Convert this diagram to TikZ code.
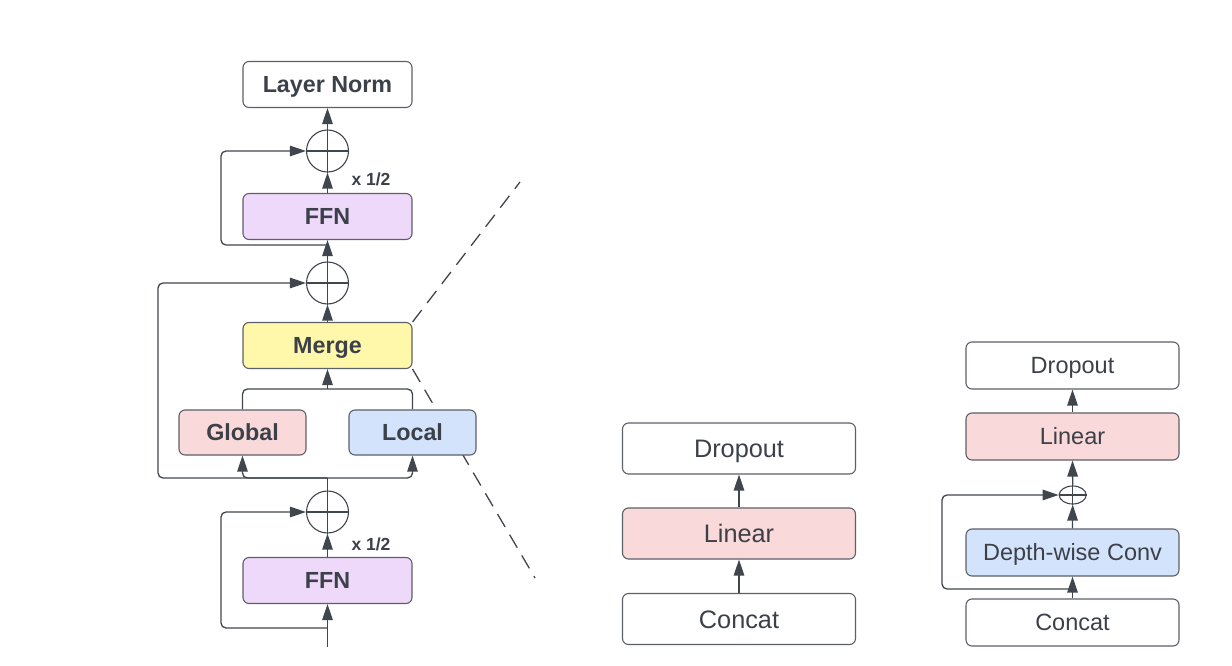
\documentclass[tikz,border=0pt]{standalone}
\usepackage{fontspec}
\setmainfont{Liberation Sans}
\usetikzlibrary{arrows.meta,shapes.geometric,backgrounds}
\definecolor{txt}{HTML}{3B4049}
\definecolor{edge}{HTML}{5C6068}
\definecolor{ln}{HTML}{41454D}
\definecolor{ffnc}{HTML}{EFD9FB}
\definecolor{mergec}{HTML}{FFF7AA}
\definecolor{pinkc}{HTML}{F9D9D9}
\definecolor{bluec}{HTML}{D4E3FC}
\tikzset{
  box/.style={draw=edge, line width=1.1pt, rounded corners=6pt, inner sep=0pt, text=txt, align=center, text depth=0pt},
  boldbox/.style={box, font=\fontsize{23.3}{27}\selectfont\bfseries, text height=16.7pt},
  midbox/.style={box, minimum width=233pt, minimum height=51pt, font=\fontsize{25.3}{30}\selectfont, text height=18.1pt},
  rightbox/.style={box, minimum width=213pt, minimum height=47pt, font=\fontsize{23.5}{28}\selectfont, text height=16.8pt},
  wide/.style={minimum width=169pt, minimum height=46pt},
  narrow/.style={minimum width=127pt, minimum height=45pt},
  plus/.style={draw=ln, line width=1.1pt, circle, minimum size=42pt, inner sep=0pt},
  smallplus/.style={draw=ln, line width=1.1pt, ellipse, minimum width=27pt, minimum height=18pt, inner sep=0pt},
  arr/.style={draw=ln, line width=1.3pt, -{Triangle[length=16pt,width=10.5pt]}},
  lin/.style={draw=ln, line width=1.3pt},
  dashline/.style={draw=ln, line width=1.3pt, dash pattern=on 15pt off 9pt},
  lbl/.style={text=txt, font=\fontsize{17.5}{21}\selectfont\bfseries, inner sep=0pt, text height=12.5pt, text depth=0pt}
}
\begin{document}
\begin{tikzpicture}[x=1pt,y=-1pt]
\useasboundingbox (0,0) rectangle (1232,666);
% ---------- left panel ----------
\node[boldbox, wide] (ln) at (327.5,84.5) {Layer Norm};
\node[plus] (c1) at (327.5,151) {};
\node[boldbox, wide, fill=ffnc] (ffn2) at (327.5,216.5) {FFN};
\node[plus] (c2) at (327.5,283) {};
\node[boldbox, wide, fill=mergec] (merge) at (327.5,345.5) {Merge};
\node[boldbox, narrow, fill=pinkc] (global) at (242.5,432.5) {Global};
\node[boldbox, narrow, fill=bluec] (local) at (412.5,432.5) {Local};
\node[plus] (c3) at (327.5,512) {};
\node[boldbox, wide, fill=ffnc] (ffn1) at (327.5,580.5) {FFN};
\node[lbl] (h2) at (371,179.5) {x 1/2};
\node[lbl] (h1) at (371,544) {x 1/2};
\foreach \c in {c1,c2,c3}{
  \draw[lin, line width=1.1pt] (\c.north) -- (\c.south);
  \draw[lin, line width=1.1pt] (\c.west) -- (\c.east);
}
\coordinate (in) at (327.5,647);
\coordinate (s1) at (327.5,628);
\coordinate (j1) at (327.5,478);
\coordinate (j2) at (327.5,389);
\coordinate (s2) at (327.5,245);
\coordinate (dz1) at (520,182);
\coordinate (dz2) at (535,578);
\draw[arr] (in) -- (ffn1.south);
\draw[arr, rounded corners=5pt] (s1) -| (221,512) -- (c3.west);
\draw[arr] (ffn1.north) -- (c3.south);
\draw[lin] (c3.north) -- (j1);
\draw[arr, rounded corners=5pt] (j1) -| (global.south);
\draw[arr, rounded corners=5pt] (j1) -| (local.south);
\draw[arr, rounded corners=5pt] (j1) -| (158,283) -- (c2.west);
\draw[lin, rounded corners=5pt] (global.north) |- (j2);
\draw[lin, rounded corners=5pt] (local.north) |- (j2);
\draw[arr] (j2) -- (merge.south);
\draw[arr] (merge.north) -- (c2.south);
\draw[arr] (c2.north) -- (ffn2.south);
\draw[arr, rounded corners=5pt] (s2) -| (221,151) -- (c1.west);
\draw[arr] (ffn2.north) -- (c1.south);
\draw[arr] (c1.north) -- (ln.south);
\begin{scope}[on background layer]
  \draw[dashline] (merge.north east) -- (dz1);
  \draw[dashline] (merge.south east) -- (dz2);
\end{scope}
% ---------- middle panel ----------
\node[midbox] (mdrop) at (739,448.5) {Dropout};
\node[midbox, fill=pinkc] (mlin) at (739,533.5) {Linear};
\node[midbox] (mcat) at (739,619) {Concat};
\draw[arr] (mcat.north) -- (mlin.south);
\draw[arr] (mlin.north) -- (mdrop.south);
% ---------- right panel ----------
\node[rightbox] (rdrop) at (1072.5,365.5) {Dropout};
\node[rightbox, fill=pinkc] (rlin) at (1072.5,436.5) {Linear};
\node[smallplus] (rc) at (1072.7,495) {};
\node[rightbox, fill=bluec] (rdw) at (1072.5,552.5) {Depth-wise Conv};
\node[rightbox] (rcat) at (1072.5,622.5) {Concat};
\draw[lin, line width=1.1pt] (rc.north) -- (rc.south);
\draw[lin, line width=1.1pt] (rc.west) -- (rc.east);
\coordinate (rs) at (1072.5,589);
\draw[arr] (rcat.north) -- (rdw.south);
\draw[arr, rounded corners=5pt] (rs) -| (942,495) -- (rc.west);
\draw[arr] (rdw.north) -- (rc.south);
\draw[arr] (rc.north) -- (rlin.south);
\draw[arr] (rlin.north) -- (rdrop.south);
\end{tikzpicture}
\end{document}
